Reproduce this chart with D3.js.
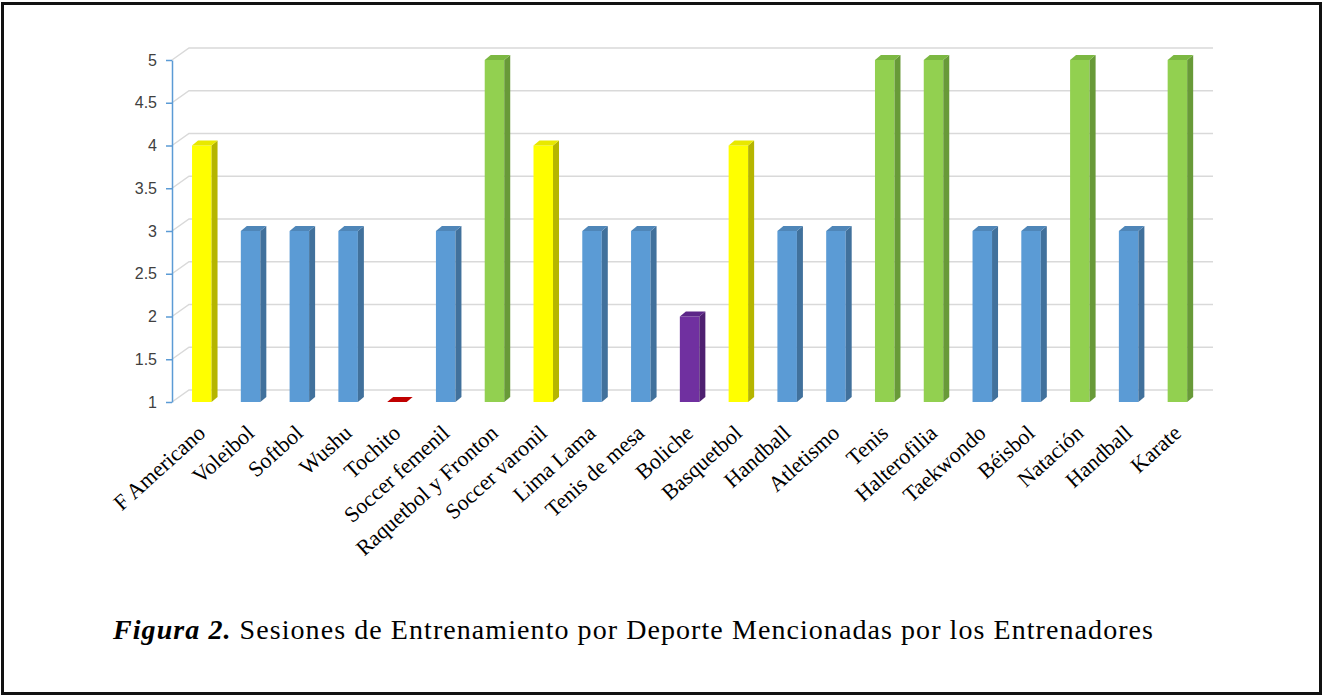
<!DOCTYPE html>
<html lang="es">
<head>
    <meta charset="UTF-8">
    <title>Sesiones de Entrenamiento por Deporte</title>
    <style>
        body { margin: 0; background: #fff; }
        #chart svg { display: block; }
        .y-axis text { font-family: "Liberation Sans", sans-serif; font-size: 16px; fill: #404040; }
        .cat-label { font-family: "Liberation Serif", "Times New Roman", serif; font-size: 22px; fill: #000; }
        .caption { font-family: "Liberation Serif", "Times New Roman", serif; font-size: 28px; fill: #000; }
    </style>
</head>
<body>
<div id="chart"></div>
<script src="https://d3js.org/d3.v7.min.js"></script>
<script>
    // datos
    const deportes = ["F Americano", "Voleibol", "Softbol", "Wushu", "Tochito", "Soccer femenil",
        "Raquetbol y Fronton", "Soccer varonil", "Lima Lama", "Tenis de mesa", "Boliche", "Basquetbol",
        "Handball", "Atletismo", "Tenis", "Halterofilia", "Taekwondo", "Béisbol", "Natación", "Handball ", "Karate"];
    const sesiones = [4, 3, 3, 3, 1, 3, 5, 4, 3, 3, 2, 4, 3, 3, 5, 5, 3, 3, 5, 3, 5];
    const yTicks = [1, 1.5, 2, 2.5, 3, 3.5, 4, 4.5, 5];

    const W = 1328, H = 696;
    const svg = d3.select("#chart").append("svg")
        .attr("width", W)
        .attr("height", H);

    // marco
    svg.append("rect")
        .attr("x", 2.5).attr("y", 3.5)
        .attr("width", 1318).attr("height", 690)
        .attr("fill", "none")
        .attr("stroke", "#111")
        .attr("stroke-width", 3);

    const x = d3.scaleBand()
        .domain(d3.range(deportes.length))
        .range([177.4, 1201.8])
        .paddingInner(0.6)
        .paddingOuter(0.3);
    const y = d3.scaleLinear().domain([1, 5]).range([402, 60]);

    // color segun numero de sesiones
    const colFront = d3.scaleOrdinal().domain([1, 2, 3, 4, 5])
        .range(["#C00000", "#7030A0", "#5B9BD5", "#FFFF00", "#92D050"]);
    const colSide = d3.scaleOrdinal().domain([1, 2, 3, 4, 5])
        .range(["#900000", "#4E2070", "#41719C", "#B5B500", "#689A38"]);
    const colTop = d3.scaleOrdinal().domain([1, 2, 3, 4, 5])
        .range(["#C00000", "#5C2688", "#4F86B8", "#E8E800", "#7CB842"]);

    const wallDx = 17, wallDy = -12;   // pared del fondo
    const depthX = 6, depthY = -5;     // profundidad de barra

    // lineas de cuadricula (con la pared en perspectiva)
    const x0 = 172, x1 = 1213;
    svg.append("g").selectAll("path")
        .data(yTicks)
        .enter().append("path")
        .attr("d", t => `M${x0},${y(t)}L${x0 + wallDx},${y(t) + wallDy}L${x1},${y(t) + wallDy}`)
        .attr("fill", "none")
        .attr("stroke", "#D9D9D9")
        .attr("stroke-width", 1.5);

    // eje y
    const yAxis = d3.axisLeft(y)
        .tickValues(yTicks)
        .tickSize(6)
        .tickSizeOuter(0)
        .tickPadding(9)
        .tickFormat(d3.format(""));
    const gy = svg.append("g")
        .attr("class", "y-axis")
        .attr("transform", `translate(${x0},0)`)
        .call(yAxis);
    gy.attr("font-family", null).attr("font-size", null);
    gy.selectAll("path, line").attr("stroke", "#5B9BD5").attr("stroke-width", 1.5);

    // barras 3D
    const bw = x.bandwidth();
    const bars = svg.append("g").selectAll("g")
        .data(sesiones.map((v, i) => ({ i, v })))
        .enter().append("g");

    bars.filter(d => d.v > 1).append("rect")
        .attr("x", d => x(d.i))
        .attr("y", d => y(d.v))
        .attr("width", bw)
        .attr("height", d => y(1) - y(d.v))
        .attr("fill", d => colFront(d.v));

    bars.filter(d => d.v > 1).append("path")
        .attr("d", d => {
            const xr = x(d.i) + bw, yt = y(d.v), yb = y(1);
            return `M${xr},${yt}L${xr + depthX},${yt + depthY}L${xr + depthX},${yb + depthY}L${xr},${yb}Z`;
        })
        .attr("fill", d => colSide(d.v));

    bars.append("path")
        .attr("d", d => {
            const xl = x(d.i), yt = y(d.v);
            return `M${xl},${yt}L${xl + depthX},${yt + depthY}L${xl + bw + depthX},${yt + depthY}L${xl + bw},${yt}Z`;
        })
        .attr("fill", d => colTop(d.v));

    // etiquetas de categorias
    svg.append("g").selectAll("text")
        .data(deportes)
        .enter().append("text")
        .attr("class", "cat-label")
        .attr("text-anchor", "end")
        .attr("transform", (d, i) => `translate(${x(i) + bw / 2 + 5},435) rotate(-42)`)
        .text(d => d.trim());

    // pie de figura
    const cap = svg.append("text")
        .attr("class", "caption")
        .attr("x", 113)
        .attr("y", 639)
        .attr("textLength", 1040)
        .attr("lengthAdjust", "spacing");
    cap.append("tspan")
        .attr("font-weight", "bold")
        .attr("font-style", "italic")
        .text("Figura 2.");
    cap.append("tspan")
        .text(" Sesiones de Entrenamiento por Deporte Mencionadas por los Entrenadores");
</script>
</body>
</html>
